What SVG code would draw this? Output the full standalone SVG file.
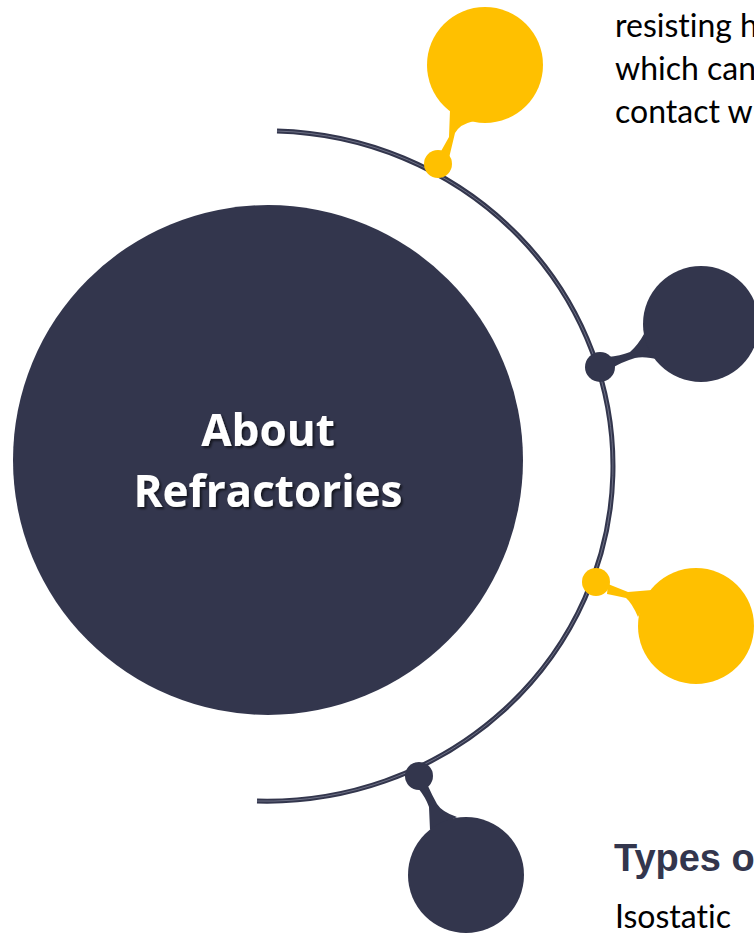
<svg xmlns="http://www.w3.org/2000/svg" width="754" height="933" viewBox="0 0 754 933">
  <defs>
    <style>
      .dark { fill: #33364D; }
      .yel { fill: #FFC000; }
      .body { font-family: Lato, "Open Sans", "Liberation Sans", sans-serif; font-size: 32px; fill: #000; font-variant-ligatures: none; }
      .title { font-family: "Open Sans", "Liberation Sans", sans-serif; font-weight: bold; font-size: 44px; fill: #fff; text-anchor: middle; }
      .head { font-family: "Liberation Sans", Arial, sans-serif; font-weight: bold; font-size: 38px; fill: #33364D; }
    </style>
    <filter id="sh" x="-10%" y="-20%" width="130%" height="150%">
      <feDropShadow dx="2" dy="2" stdDeviation="1.2" flood-color="#000" flood-opacity="0.6"/>
    </filter>
  </defs>
  <rect width="754" height="933" fill="#fff"/>

  <g id="connectors">
    <path d="M 277,131 A 346 335 0 0 1 257,801" fill="none" stroke="#33364D" stroke-width="5"/>
    <path d="M 277,131 A 346 335 0 0 1 257,801" fill="none" stroke="#6E7186" stroke-width="1"/>
  </g>

  <g id="center">
    <circle class="dark" cx="268" cy="460" r="255"/>
    <g filter="url(#sh)">
      <text class="title" x="268" y="446">About</text>
      <text class="title" x="268" y="507">Refractories</text>
    </g>
  </g>

  <g id="node1">
    <path class="yel" d="M 440,153 L 449,137 L 450,110 L 474,121 Q 460,124 455,133 L 449,158 Z"/>
    <circle class="yel" cx="485" cy="65" r="58"/>
    <circle class="yel" cx="438" cy="164" r="14"/>
  </g>

  <g id="node2">
    <path class="dark" d="M 608,357 Q 620,356 630,352 Q 638,345 644,334 L 660,360 Q 645,356 635,358 Q 622,362 612,368 Z"/>
    <circle class="dark" cx="701" cy="324" r="58"/>
    <circle class="dark" cx="600" cy="367" r="15"/>
  </g>

  <g id="node3">
    <path class="yel" d="M 608,584 Q 618,588 628,592 L 652,590 L 638,617 Q 632,603 626,598 Q 617,596 607,594 Z"/>
    <circle class="yel" cx="696" cy="626" r="58"/>
    <circle class="yel" cx="596" cy="582" r="14"/>
  </g>

  <g id="node4">
    <path class="dark" d="M 418,788 Q 426,798 429,807 L 430,830 L 457,817 Q 442,812 437,804 Q 432,795 428,786 Z"/>
    <circle class="dark" cx="466" cy="875" r="58"/>
    <circle class="dark" cx="419" cy="776" r="14"/>
  </g>

  <g id="texts">
    <text class="body" x="615" y="37">resisting h</text>
    <text class="body" x="615" y="80">which can</text>
    <text class="body" x="615" y="123">contact wi</text>
    <text class="head" x="614" y="871">Types o</text>
    <text class="body" x="615" y="928">Isostatic</text>
  </g>
</svg>
